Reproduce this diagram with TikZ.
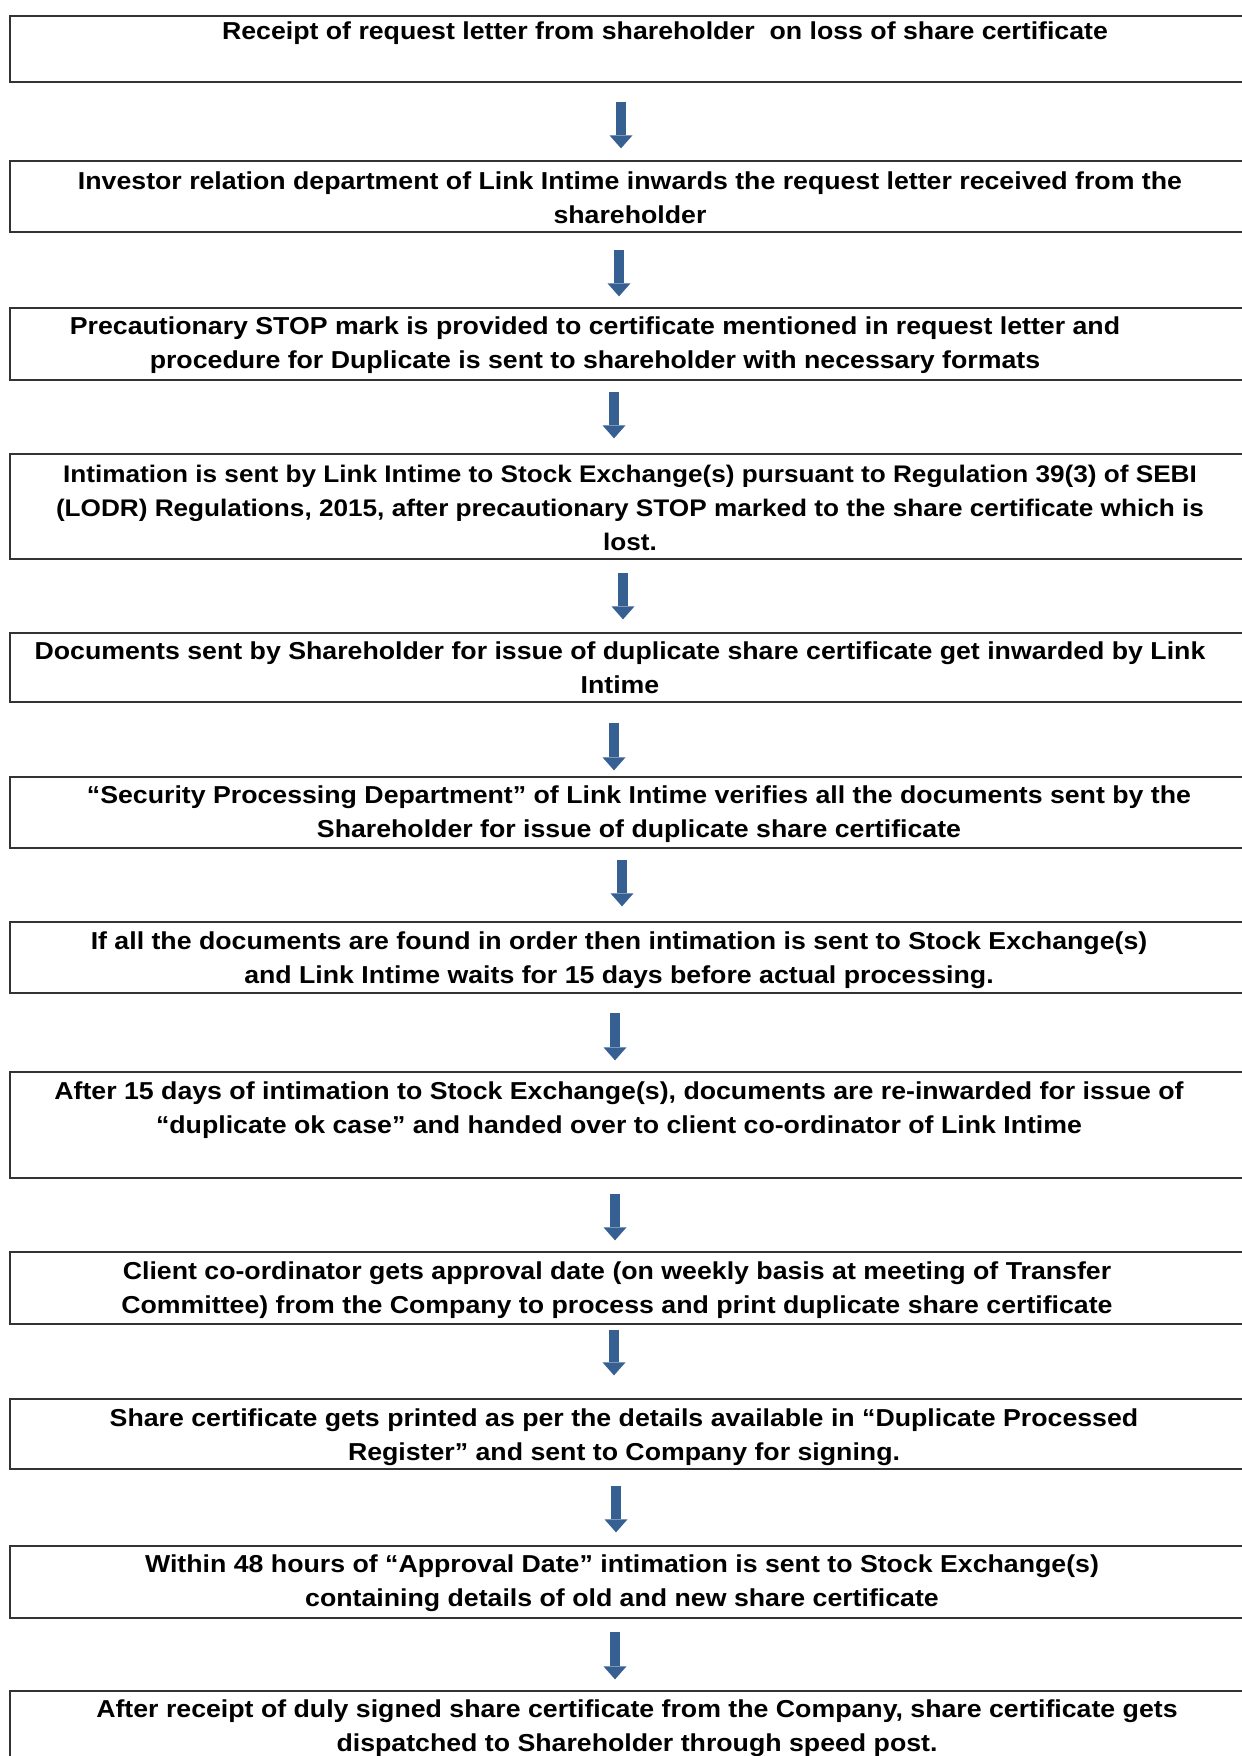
\documentclass[tikz,border=0pt]{standalone}
\usepackage{fontspec}
\setmainfont[FakeStretch=1.09]{Liberation Sans}
\usetikzlibrary{positioning,arrows.meta}
\definecolor{arrowblue}{HTML}{376092}

\begin{document}
\begin{tikzpicture}[x=1pt,y=-1pt,
	box/.style={draw=black!80,line width=1.3pt,minimum width=1252pt,inner sep=0pt},
	txt/.style={align=center,inner sep=0pt,font=\fontsize{24.5}{33.6}\selectfont\bfseries},
	flow/.style={draw=arrowblue,line width=9.5pt,-{Triangle[length=13pt,width=23pt,line width=0pt]}}]
	\useasboundingbox (0,0) rectangle (1242,1756);
	\clip (0,0) rectangle (1242,1756);

	%boxes
	\node [box,minimum height=66pt] (b1) at (636,49) {};
	\node [box,minimum height=71pt] (b2) at (636,196.5) {};
	\node [box,minimum height=72pt] (b3) at (636,344) {};
	\node [box,minimum height=105pt] (b4) at (636,506.5) {};
	\node [box,minimum height=69pt] (b5) at (636,667.5) {};
	\node [box,minimum height=71pt] (b6) at (636,812.5) {};
	\node [box,minimum height=71pt] (b7) at (636,957.5) {};
	\node [box,minimum height=106pt] (b8) at (636,1125) {};
	\node [box,minimum height=72pt] (b9) at (636,1288) {};
	\node [box,minimum height=70pt] (b10) at (636,1434) {};
	\node [box,minimum height=72pt] (b11) at (636,1582) {};
	\node [box,minimum height=109pt] (b12) at (636,1745.5) {};

	%texts
	\node [txt] (t1) at (665,33) {Receipt of request letter from shareholder\ \ on loss of share certificate};
	\node [txt] (t2) at (630,198) {Investor relation department of Link Intime inwards the request letter received from the\\shareholder};
	\node [txt] (t3) at (595,345) {Precautionary STOP mark is provided to certificate mentioned in request letter and\\procedure for Duplicate is sent to shareholder with necessary formats};
	\node [txt,font=\fontsize{24}{33.6}\selectfont\bfseries] (t4) at (630,508) {Intimation is sent by Link Intime to Stock Exchange(s) pursuant to Regulation 39(3) of SEBI\\(LODR) Regulations, 2015, after precautionary STOP marked to the share certificate which is\\lost.};
	\node [txt] (t5) at (620,668) {Documents sent by Shareholder for issue of duplicate share certificate get inwarded by Link\\Intime};
	\node [txt] (t6) at (639,814) {“Security Processing Department” of Link Intime verifies all the documents sent by the\\Shareholder for issue of duplicate share certificate};
	\node [txt] (t7) at (619,960) {If all the documents are found in order then intimation is sent to Stock Exchange(s)\\and Link Intime waits for 15 days before actual processing.};
	\node [txt] (t8) at (619,1110) {After 15 days of intimation to Stock Exchange(s), documents are re-inwarded for issue of\\“duplicate ok case” and handed over to client co-ordinator of Link Intime};
	\node [txt] (t9) at (617,1290) {Client co-ordinator gets approval date (on weekly basis at meeting of Transfer\\Committee) from the Company to process and print duplicate share certificate};
	\node [txt] (t10) at (624,1437) {Share certificate gets printed as per the details available in “Duplicate Processed\\Register” and sent to Company for signing.};
	\node [txt] (t11) at (622,1583) {Within 48 hours of “Approval Date” intimation is sent to Stock Exchange(s)\\containing details of old and new share certificate};
	\node [txt] (t12) at (637,1728) {After receipt of duly signed share certificate from the Company, share certificate gets\\dispatched to Shareholder through speed post.};

	%arrows
	\draw [flow,shorten <=19pt,shorten >=12pt] ([xshift=-15pt]b1.south) -- ([xshift=-15pt]b2.north);
	\draw [flow,shorten <=17pt,shorten >=11pt] ([xshift=-17pt]b2.south) -- ([xshift=-17pt]b3.north);
	\draw [flow,shorten <=11pt,shorten >=15pt] ([xshift=-22pt]b3.south) -- ([xshift=-22pt]b4.north);
	\draw [flow,shorten <=13pt,shorten >=13pt] ([xshift=-13pt]b4.south) -- ([xshift=-13pt]b5.north);
	\draw [flow,shorten <=20pt,shorten >=6pt] ([xshift=-22pt]b5.south) -- ([xshift=-22pt]b6.north);
	\draw [flow,shorten <=11pt,shorten >=15pt] ([xshift=-14pt]b6.south) -- ([xshift=-14pt]b7.north);
	\draw [flow,shorten <=19pt,shorten >=11pt] ([xshift=-21pt]b7.south) -- ([xshift=-21pt]b8.north);
	\draw [flow,shorten <=15pt,shorten >=11pt] ([xshift=-21pt]b8.south) -- ([xshift=-21pt]b9.north);
	\draw [flow,shorten <=5pt,shorten >=23pt] ([xshift=-22pt]b9.south) -- ([xshift=-22pt]b10.north);
	\draw [flow,shorten <=16pt,shorten >=13pt] ([xshift=-20pt]b10.south) -- ([xshift=-20pt]b11.north);
	\draw [flow,shorten <=13pt,shorten >=11pt] ([xshift=-21pt]b11.south) -- ([xshift=-21pt]b12.north);
\end{tikzpicture}
\end{document}
